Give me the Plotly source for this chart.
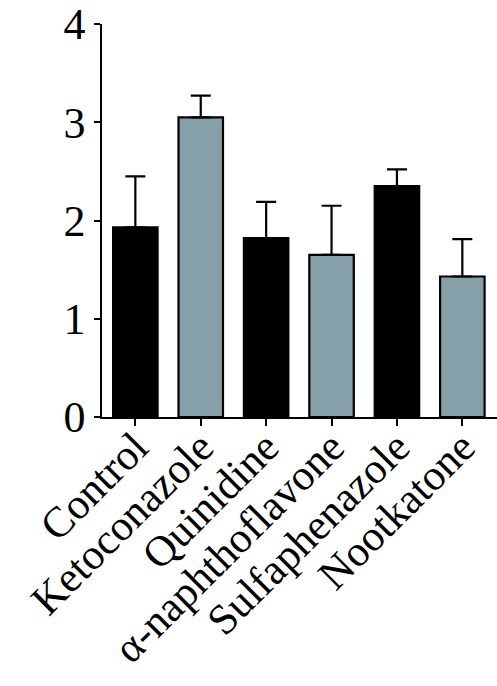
import plotly.graph_objects as go

categories = ["Control", "Ketoconazole", "Quinidine", "α-naphthoflavone", "Sulfaphenazole", "Nootkatone"]
means = [1.93, 3.05, 1.82, 1.65, 2.35, 1.43]
errors = [0.52, 0.22, 0.37, 0.50, 0.17, 0.38]
colors = ["#000000", "#86A0A9", "#000000", "#86A0A9", "#000000", "#86A0A9"]
y_ticks = [0, 1, 2, 3, 4]

FONT = "Liberation Serif, Times New Roman, serif"

fig = go.Figure()
fig.add_trace(go.Bar(
    x=list(range(len(categories))),
    y=means,
    width=0.68,
    marker=dict(color=colors, line=dict(color="black", width=2.2)),
    error_y=dict(type="data", array=errors, arrayminus=[0] * len(errors), symmetric=False,
                 color="black", thickness=2.2, width=10),
))

fig.update_layout(
    width=497, height=686,
    margin=dict(l=102, r=0, t=24, b=269),
    plot_bgcolor="white", paper_bgcolor="white",
    showlegend=False,
    font=dict(family=FONT, color="black"),
    xaxis=dict(
        range=[-0.51, 5.53], automargin=False,
        tickmode="array", tickvals=list(range(len(categories))), ticktext=categories,
        tickangle=-45, tickfont=dict(size=43, family=FONT, color="black"),
        ticklabeloverflow="allow", ticklabelstandoff=-21,
        showline=True, linecolor="black", linewidth=1.5,
        ticks="outside", ticklen=7, tickwidth=1.5, tickcolor="black",
        showgrid=False, zeroline=False,
    ),
    yaxis=dict(
        range=[0, 4], automargin=False,
        tickmode="array", tickvals=y_ticks,
        tickfont=dict(size=44, family=FONT, color="black"),
        ticklabeloverflow="allow",
        showline=True, linecolor="black", linewidth=1.5,
        ticks="outside", ticklen=6, tickwidth=1.5, tickcolor="black",
        showgrid=False, zeroline=False,
    ),
)

fig.write_html("out.html")
